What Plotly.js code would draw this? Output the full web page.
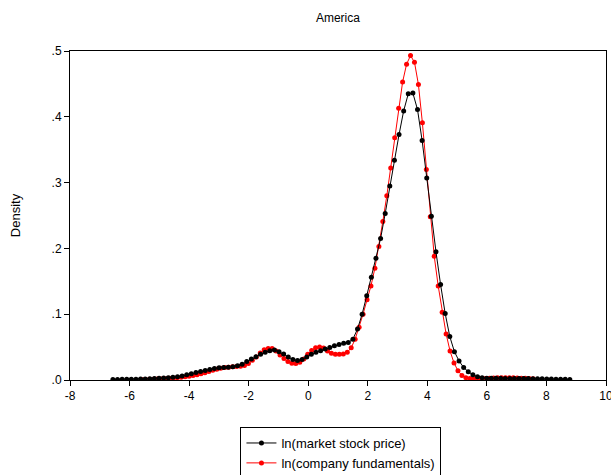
<!DOCTYPE html>
<html>
<head>
<meta charset="utf-8">
<script src="https://cdn.plot.ly/plotly-3.0.1.min.js"></script>
<style>html,body{margin:0;padding:0;background:#fff;}#chart{width:611px;height:475px;}</style>
</head>
<body>
<div id="chart"></div>
<script>
// ln(market stock price): grid and estimated density
const priceX = [-6.56,-6.405,-6.25,-6.095,-5.94,-5.785,-5.63,-5.475,-5.32,-5.165,
-5.01,-4.855,-4.7,-4.545,-4.39,-4.235,-4.08,-3.925,-3.77,-3.615,
-3.46,-3.305,-3.15,-2.995,-2.84,-2.685,-2.53,-2.375,-2.22,-2.065,
-1.91,-1.755,-1.6,-1.445,-1.29,-1.135,-0.98,-0.825,-0.67,-0.515,
-0.36,-0.205,-0.05,0.105,0.26,0.415,0.57,0.725,0.88,1.035,
1.19,1.345,1.5,1.655,1.81,1.965,2.12,2.275,2.43,2.585,
2.74,2.895,3.05,3.205,3.36,3.515,3.67,3.825,3.98,4.135,
4.29,4.445,4.6,4.755,4.91,5.065,5.22,5.375,5.53,5.685,
5.84,5.995,6.15,6.305,6.46,6.615,6.77,6.925,7.08,7.235,
7.39,7.545,7.7,7.855,8.01,8.165,8.32,8.475,8.63,8.785];
const priceY = [0.0008,0.0009,0.001,0.0011,0.0012,0.0013,0.0015,0.0017,0.002,0.0024,
0.0028,0.003,0.0033,0.004,0.0048,0.006,0.0078,0.0095,0.0115,0.013,
0.0145,0.016,0.0175,0.0185,0.019,0.0195,0.020,0.0215,0.024,0.028,
0.032,0.0355,0.039,0.042,0.0445,0.0455,0.043,0.0395,0.035,0.031,
0.0295,0.031,0.035,0.039,0.042,0.0445,0.047,0.0495,0.052,0.054,
0.056,0.057,0.062,0.0775,0.100,0.128,0.156,0.185,0.215,0.253,
0.295,0.334,0.373,0.409,0.435,0.436,0.411,0.364,0.307,0.249,
0.195,0.145,0.101,0.066,0.043,0.029,0.019,0.0126,0.008,0.005,
0.0035,0.0028,0.0025,0.0025,0.0025,0.0024,0.0023,0.0023,0.0022,0.0022,
0.0021,0.002,0.0019,0.0018,0.0016,0.0015,0.0013,0.0012,0.001,0.0009];

// ln(company fundamentals): grid and estimated density
const fundX = [-5.595,-5.462,-5.329,-5.197,-5.064,-4.931,-4.798,-4.665,-4.533,-4.4,
-4.267,-4.134,-4.001,-3.869,-3.736,-3.603,-3.47,-3.337,-3.205,-3.072,
-2.939,-2.806,-2.673,-2.541,-2.408,-2.275,-2.142,-2.009,-1.877,-1.744,
-1.611,-1.478,-1.345,-1.213,-1.08,-0.947,-0.814,-0.681,-0.549,-0.416,
-0.283,-0.15,-0.017,0.115,0.248,0.381,0.514,0.647,0.779,0.912,
1.045,1.178,1.311,1.443,1.576,1.709,1.842,1.975,2.107,2.24,
2.373,2.506,2.639,2.771,2.904,3.037,3.17,3.303,3.435,3.568,
3.701,3.834,3.967,4.099,4.232,4.365,4.498,4.631,4.763,4.896,
5.029,5.162,5.295,5.427,5.56,5.693,5.826,5.959,6.091,6.224,
6.357,6.49,6.623,6.755,6.888,7.021,7.154,7.287,7.419,7.552];
const fundY = [0.0006,0.0008,0.001,0.0012,0.0014,0.0017,0.002,0.0025,0.003,0.0035,
0.0042,0.005,0.0058,0.0068,0.008,0.0095,0.011,0.013,0.015,0.0165,
0.018,0.019,0.0195,0.020,0.0205,0.021,0.022,0.025,0.030,0.035,
0.041,0.046,0.048,0.048,0.044,0.038,0.0325,0.028,0.0255,0.025,
0.027,0.032,0.039,0.045,0.049,0.050,0.0485,0.044,0.0405,0.039,
0.039,0.0395,0.042,0.049,0.062,0.080,0.100,0.122,0.143,0.170,
0.203,0.241,0.280,0.322,0.368,0.413,0.453,0.480,0.493,0.483,
0.449,0.391,0.320,0.248,0.188,0.143,0.103,0.070,0.044,0.026,
0.014,0.007,0.0035,0.0022,0.0018,0.0018,0.002,0.0022,0.0025,0.003,
0.0033,0.0035,0.0035,0.0035,0.0033,0.003,0.0028,0.0025,0.0022,0.002];

const seriesNames = ["ln(market stock price)", "ln(company fundamentals)"];
const xTicks = [-8,-6,-4,-2,0,2,4,6,8,10];
const yTickVals = [0,0.1,0.2,0.3,0.4,0.5];
const yTickText = [".0",".1",".2",".3",".4",".5"];

const font = "Liberation Sans, Arial, sans-serif";

const traces = [
  {x: fundX, y: fundY, name: seriesNames[1], type: "scatter", mode: "lines+markers",
   line: {color: "#ff0000", width: 1}, marker: {color: "#ff0000", size: 5}, legendrank: 2},
  {x: priceX, y: priceY, name: seriesNames[0], type: "scatter", mode: "lines+markers",
   line: {color: "#000000", width: 1}, marker: {color: "#000000", size: 5}, legendrank: 1}
];

const layout = {
  width: 611, height: 475,
  paper_bgcolor: "#ffffff", plot_bgcolor: "#ffffff",
  font: {family: font, size: 12, color: "#000"},
  margin: {l: 70, r: 5, t: 51, b: 95, autoexpand: false},
  title: {text: "America", x: 0.553, xanchor: "center", y: 0.972, yanchor: "top", font: {family: font, size: 12, color: "#000"}},
  showlegend: true,
  legend: {x: 0.558, xanchor: "center", xref: "container", y: 0.101, yanchor: "top", yref: "container", orientation: "v",
           bordercolor: "#000", borderwidth: 1, bgcolor: "#fff",
           font: {family: font, size: 13, color: "#000"}, tracegroupgap: 0},
  xaxis: {range: [-8, 10.0001], tickvals: xTicks, ticktext: xTicks.map(String),
          showgrid: false, zeroline: false, showline: true, linecolor: "#000", linewidth: 1,
          mirror: true, ticks: "outside", ticklen: 5, tickcolor: "#000", automargin: false,
          ticklabeloverflow: "allow",
          tickfont: {family: font, size: 12, color: "#000"}, fixedrange: true},
  yaxis: {range: [0, 0.5], tickvals: yTickVals, ticktext: yTickText,
          showgrid: false, zeroline: false, showline: true, linecolor: "#000", linewidth: 1,
          mirror: true, ticks: "outside", ticklen: 5, tickcolor: "#000", automargin: false,
          tickfont: {family: font, size: 12, color: "#000"},
          title: {text: "Density", font: {family: font, size: 13, color: "#000"}, standoff: 28},
          fixedrange: true}
};

Plotly.newPlot("chart", traces, layout, {staticPlot: true, displayModeBar: false});
</script>
</body>
</html>
